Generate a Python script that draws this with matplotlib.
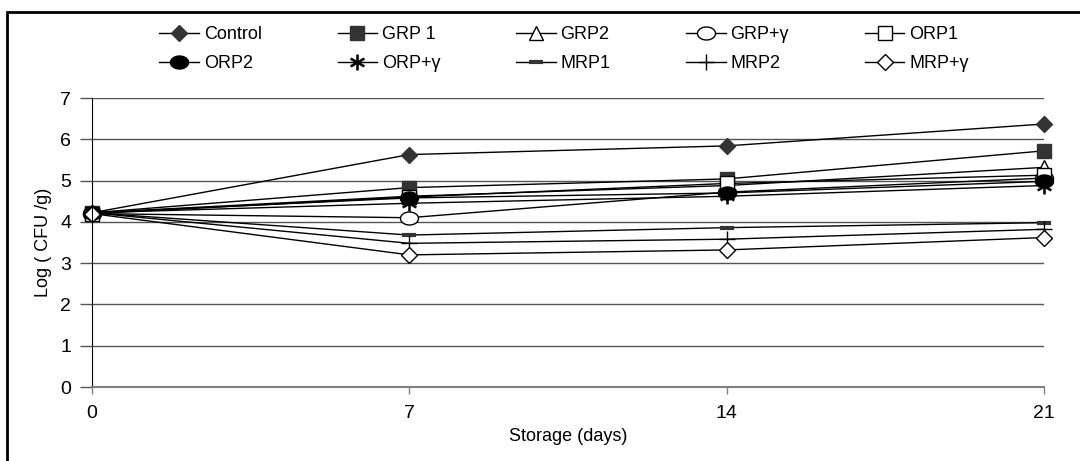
import numpy as np
import matplotlib
matplotlib.use("Agg")
import matplotlib.pyplot as plt
from matplotlib.path import Path
from matplotlib.patches import Rectangle

plt.rcParams['font.family'] = ['Liberation Sans', 'DejaVu Sans']

# storage time (days)
days = [0, 7, 14, 21]

# Log (CFU/g)
control = [4.22, 5.63, 5.84, 6.37]
grp1 = [4.22, 4.83, 5.04, 5.72]
grp2 = [4.22, 4.62, 4.88, 5.32]
grp_g = [4.20, 4.10, 4.72, 5.06]
orp1 = [4.20, 4.60, 4.93, 5.13]
orp2 = [4.22, 4.58, 4.70, 4.98]
orp_g = [4.22, 4.45, 4.62, 4.88]
mrp1 = [4.22, 3.68, 3.86, 3.98]
mrp2 = [4.22, 3.48, 3.58, 3.82]
mrp_g = [4.20, 3.20, 3.32, 3.62]

labels = ['Control', 'GRP 1', 'GRP2', 'GRP+γ', 'ORP1',
          'ORP2', 'ORP+γ', 'MRP1', 'MRP2', 'MRP+γ']
series = [control, grp1, grp2, grp_g, orp1, orp2, orp_g, mrp1, mrp2, mrp_g]

# flattened ellipse marker (Excel circles got stretched)
t = np.linspace(0, 2 * np.pi, 40)
ellipse = Path(np.column_stack([np.cos(t), 0.72 * np.sin(t)]), closed=True)

dark = '#333333'
styles = [
    dict(marker='D', ms=8, mfc=dark, mec=dark),
    dict(marker='s', ms=10, mfc=dark, mec=dark),
    dict(marker='^', ms=10, mfc='white', mec='black', mew=1),
    dict(marker=ellipse, ms=13, mfc='white', mec='black', mew=1),
    dict(marker='s', ms=10, mfc='white', mec='black', mew=1),
    dict(marker=ellipse, ms=13, mfc='black', mec='black'),
    dict(marker='$\\ast$', ms=11, mfc='black', mec='black', mew=0.4),
    dict(marker='_', ms=10, mec=dark, mew=3),
    dict(marker='+', ms=12, mec='black', mew=1),
    dict(marker='D', ms=8, mfc='white', mec='black', mew=1),
]

fig = plt.figure(figsize=(10.8, 4.61), dpi=100)
ax = fig.add_axes([92 / 1080, 1 - 387 / 461, (1044 - 92) / 1080, (387 - 98) / 461])

handles = []
for lab, vals, st in zip(labels, series, styles):
    h, = ax.plot(days, vals, color='black', lw=1, label=lab, clip_on=False, **st)
    handles.append(h)

ax.set_xlim(0, 21)
ax.set_ylim(0, 7)
ax.set_xticks(days)
ax.set_yticks(range(0, 8))
ax.yaxis.grid(True, color='#555555', lw=1)
ax.set_axisbelow(True)
for s in ['top', 'right']:
    ax.spines[s].set_visible(False)
ax.spines['left'].set_color('black')
ax.spines['bottom'].set_color('#808080')
ax.spines['bottom'].set_linewidth(1.5)
ax.tick_params(axis='y', length=9, width=1, color='#555555', labelsize=14, pad=6)
ax.tick_params(axis='x', length=5, width=1, color='#808080', labelsize=14, pad=8)
ax.set_xlabel('Storage (days)', fontsize=13, labelpad=4)
ax.set_ylabel('Log ( CFU /g)', fontsize=13, labelpad=6)

# legend fills column by column, so reorder to get the row order
order = [0, 5, 1, 6, 2, 7, 3, 8, 4, 9]
fig.legend([handles[i] for i in order], [labels[i] for i in order],
           ncol=5, loc='center', bbox_to_anchor=(564 / 1080, 1 - 49 / 461),
           frameon=False, fontsize=13, handlelength=2.2, handletextpad=0.25,
           columnspacing=4.2, labelspacing=0.65, markerscale=1.0)

# outer frame of the chart
fig.patches.append(Rectangle((7 / 1080, -0.05), 1.2, 1 - 12 / 461 + 0.05,
                             transform=fig.transFigure, fill=False,
                             edgecolor='black', lw=2))

fig.savefig('out.png', dpi=100)
